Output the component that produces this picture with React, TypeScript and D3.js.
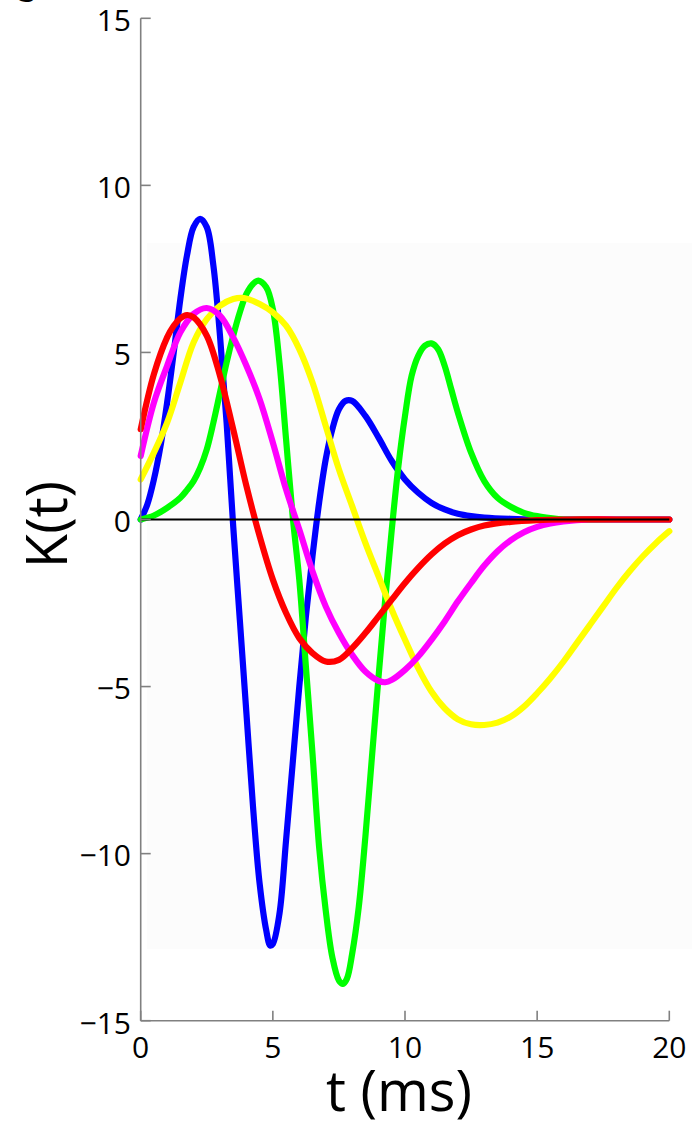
import React from 'react';
import * as d3 from 'd3';

// ---- data ----
const xTicks = [0, 5, 10, 15, 20];
const yTicks = [-15, -10, -5, 0, 5, 10, 15];
const xLabel = 't (ms)';
const yLabel = 'K(t)';
const panelLetter = 'c';

const blueT = [0, 0.25, 0.5, 0.75, 1, 1.25, 1.5, 1.75, 2, 2.25, 2.5, 2.75, 3, 3.25, 3.5, 3.75, 4, 4.25, 4.5, 4.75, 4.9, 5, 5.25, 5.5, 5.75, 6, 6.25, 6.5, 6.75, 7, 7.25, 7.5, 7.75, 8, 8.5, 9, 9.5, 10, 10.5, 11, 11.5, 12, 12.5, 13, 14, 15, 16, 18, 20];
const blueK = [0, 0.45, 1.2, 2.2, 3.5, 5.0, 6.6, 7.9, 8.75, 9.0, 8.75, 7.6, 5.5, 2.9, -0.2, -3.0, -5.8, -8.6, -10.9, -12.3, -12.75, -12.7, -11.8, -9.6, -7.3, -5.0, -2.9, -1.1, 0.5, 1.8, 2.7, 3.3, 3.55, 3.55, 3.1, 2.45, 1.75, 1.2, 0.8, 0.5, 0.3, 0.17, 0.1, 0.06, 0.02, 0, 0, 0, 0];

const greenT = [0, 0.5, 1, 1.5, 1.75, 2, 2.25, 2.5, 2.75, 3, 3.25, 3.5, 3.75, 4, 4.25, 4.45, 4.75, 5, 5.25, 5.5, 5.75, 6, 6.25, 6.5, 6.75, 7, 7.25, 7.5, 7.65, 7.8, 8, 8.25, 8.5, 8.75, 9, 9.25, 9.5, 9.75, 10, 10.25, 10.5, 10.75, 11, 11.25, 11.5, 11.75, 12, 12.5, 13, 13.5, 14, 14.5, 15, 15.5, 16, 18, 20];
const greenK = [0, 0.12, 0.35, 0.65, 0.88, 1.15, 1.55, 2.1, 2.9, 3.8, 4.7, 5.5, 6.2, 6.75, 7.05, 7.15, 6.95, 6.3, 4.7, 2.4, 0.1, -1.8, -4.4, -7.0, -9.8, -11.7, -13.1, -13.8, -13.9, -13.75, -13.0, -11.6, -9.5, -7.1, -4.7, -2.4, -0.3, 1.6, 3.1, 4.3, 4.9, 5.2, 5.27, 5.1, 4.6, 3.9, 3.2, 2.0, 1.15, 0.65, 0.38, 0.2, 0.1, 0.04, 0, 0, 0];

const yellowT = [0, 0.5, 1, 1.5, 2, 2.5, 3, 3.5, 3.9, 4.5, 5, 5.5, 6, 6.5, 7, 7.5, 8, 8.5, 9, 9.5, 10, 10.5, 11, 11.5, 12, 12.5, 13, 13.5, 14, 14.5, 15, 15.5, 16, 16.5, 17, 17.5, 18, 18.5, 19, 19.5, 20];
const yellowK = [1.2, 2.0, 2.9, 4.1, 5.3, 6.0, 6.4, 6.6, 6.63, 6.45, 6.2, 5.8, 5.1, 4.1, 2.8, 1.5, 0.4, -0.7, -1.7, -2.7, -3.6, -4.45, -5.15, -5.65, -5.98, -6.13, -6.15, -6.08, -5.9, -5.6, -5.2, -4.75, -4.25, -3.7, -3.15, -2.6, -2.05, -1.55, -1.1, -0.7, -0.35];

const magentaT = [0, 0.5, 1, 1.5, 2, 2.5, 3, 3.5, 4, 4.5, 5, 5.5, 6, 6.5, 7, 7.5, 8, 8.5, 9, 9.25, 9.5, 10, 10.5, 11, 11.5, 12, 12.5, 13, 13.5, 14, 14.5, 15, 15.5, 16, 17, 18, 20];
const magentaK = [1.9, 3.5, 4.6, 5.6, 6.15, 6.33, 6.1, 5.45, 4.6, 3.6, 2.3, 0.9, -0.3, -1.55, -2.6, -3.4, -4.05, -4.55, -4.83, -4.87, -4.8, -4.5, -4.1, -3.6, -3.05, -2.45, -1.9, -1.38, -0.95, -0.62, -0.38, -0.22, -0.12, -0.06, 0, 0, 0];

const redT = [0, 0.5, 1, 1.25, 1.5, 1.75, 2, 2.5, 3, 3.5, 4, 4.5, 5, 5.5, 6, 6.5, 7, 7.5, 8, 8.5, 9, 9.5, 10, 10.5, 11, 11.5, 12, 12.5, 13, 14, 15, 16, 18, 20];
const redK = [2.7, 4.35, 5.45, 5.8, 6.02, 6.12, 6.05, 5.5, 4.3, 2.7, 1.0, -0.5, -1.8, -2.8, -3.55, -4.0, -4.25, -4.2, -3.85, -3.4, -2.9, -2.4, -1.9, -1.45, -1.05, -0.72, -0.47, -0.3, -0.18, -0.07, -0.02, 0, 0, 0];

const seriesNames = ['blue', 'green', 'yellow', 'magenta', 'red'];
const seriesT = [blueT, greenT, yellowT, magentaT, redT];
const seriesK = [blueK, greenK, yellowK, magentaK, redK];
const seriesColors = ['#0000ff', '#00ff00', '#ffff00', '#ff00ff', '#ff0000'];

const fmt = (v: number) => (v < 0 ? `\u2212${-v}` : `${v}`);

export default function App() {
  const W = 692;
  const H = 1127;
  const x = d3.scaleLinear().domain([0, 20]).range([140.7, 669.3]);
  const y = d3.scaleLinear().domain([-15, 15]).range([1020.7, 18.3]);
  const line = d3
    .line<[number, number]>()
    .x((d) => x(d[0]))
    .y((d) => y(d[1]))
    .curve(d3.curveCatmullRom.alpha(0.5));

  const x0 = x(0);
  const x1 = x(20);
  const yb = y(-15);
  const yt = y(15);
  const font = "'Open Sans', 'DejaVu Sans', sans-serif";
  const axisColor = '#808080';

  return (
    <svg
      width={W}
      height={H}
      viewBox={`0 0 ${W} ${H}`}
      style={{ position: 'absolute', left: 0, top: 0, display: 'block', background: '#ffffff' }}
    >
      <rect x={0} y={0} width={W} height={H} fill="#ffffff" />
      <rect x={147} y={243} width={W - 147} height={706} fill="#fcfcfc" />

      {/* panel letter (cut off at the top, as in the reference) */}
      <text x={14} y={2} fontFamily={font} fontSize={40} fontWeight={700} fill="#000">
        {panelLetter}
      </text>

      {/* curves */}
      {seriesNames.map((name, i) => {
        const pts: [number, number][] = seriesT[i].map((t, j) => [t, seriesK[i][j]]);
        return (
          <path
            key={name}
            d={line(pts) || ''}
            fill="none"
            stroke={seriesColors[i]}
            strokeWidth={6.2}
            strokeLinejoin="round"
            strokeLinecap="round"
          />
        );
      })}

      {/* zero line */}
      <line x1={x0} x2={x1} y1={y(0)} y2={y(0)} stroke="#000" strokeWidth={1.8} />

      {/* axes */}
      <line x1={x0} x2={x0} y1={yt} y2={yb} stroke={axisColor} strokeWidth={1.6} />
      <line x1={x0} x2={x1} y1={yb} y2={yb} stroke={axisColor} strokeWidth={1.6} />

      {yTicks.map((v) => (
        <g key={`y${v}`}>
          <line x1={x0} x2={x0 + 10} y1={y(v)} y2={y(v)} stroke={axisColor} strokeWidth={1.6} />
          <text
            x={131}
            y={y(v) + 12.8}
            textAnchor="end"
            fontFamily={font}
            fontSize={30}
            fill="#000"
          >
            {fmt(v)}
          </text>
        </g>
      ))}

      {xTicks.map((v) => (
        <g key={`x${v}`}>
          <line x1={x(v)} x2={x(v)} y1={yb} y2={yb - 10} stroke={axisColor} strokeWidth={1.6} />
          <text
            x={x(v)}
            y={yb + 37.3}
            textAnchor="middle"
            fontFamily={font}
            fontSize={30}
            fill="#000"
          >
            {fmt(v)}
          </text>
        </g>
      ))}

      {/* axis titles */}
      <text
        x={(x0 + x1) / 2 - 6}
        y={1111}
        textAnchor="middle"
        fontFamily={font}
        fontSize={56}
        fill="#000"
      >
        {xLabel}
      </text>
      <text
        transform={`translate(67, 524.5) rotate(-90)`}
        textAnchor="middle"
        fontFamily={font}
        fontSize={56}
        fill="#000"
      >
        {yLabel}
      </text>
    </svg>
  );
}
